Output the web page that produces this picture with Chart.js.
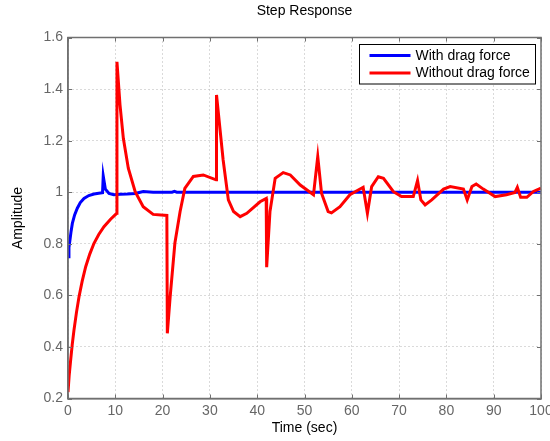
<!DOCTYPE html>
<html>
<head>
<meta charset="utf-8">
<script src="https://cdn.jsdelivr.net/npm/chart.js@4.4.0/dist/chart.umd.min.js"></script>
<style>
html,body{margin:0;padding:0;overflow:hidden;background:#fff;}
#wrap{position:absolute;left:0;top:0;width:560px;height:441px;}
</style>
</head>
<body>
<div id="wrap"><canvas id="c" width="560" height="441"></canvas></div>
<script>
const titleText = 'Step Response';
const xTitle = 'Time (sec)';
const yTitle = 'Amplitude';
const seriesNames = ['With drag force', 'Without drag force'];
const seriesColors = ['#0000ff', '#ff0000'];
const xTicks = [0, 10, 20, 30, 40, 50, 60, 70, 80, 90, 100];
const yTicks = [0.2, 0.4, 0.6, 0.8, 1.0, 1.2, 1.4, 1.6];

const blueTime = [0, 0.2, 0.42, 0.65, 0.92, 1.4, 1.97, 2.6, 3.38, 4.4, 5.5, 6.5, 7.3, 7.45, 7.9, 8.67, 9.7, 11, 12.5, 14.2, 15.9, 18, 22, 22.5, 23, 30, 40, 50, 60, 70, 80, 90, 100];
const blueAmp  = [0.75, 0.785, 0.815, 0.848, 0.879, 0.912, 0.938, 0.96, 0.976, 0.987, 0.993, 0.996, 0.998, 1.063, 1.012, 0.995, 0.99, 0.992, 0.993, 0.995, 1.003, 1.0, 1.0, 1.003, 1.0, 1.0, 1.0, 1.0, 1.0, 1.0, 1.0, 1.0, 1.0];

const redTime = [0, 0.25, 0.56, 0.9, 1.27, 1.8, 2.33, 3.0, 3.74, 4.6, 5.5, 6.5, 7.6, 9.0, 10.3, 10.35, 11.0, 11.7, 12.75, 14.2, 15.9, 18, 20.9, 21.0, 21.6, 22.6, 23.7, 24.7, 26.5, 28.6, 31.3, 31.4, 32.8, 33.9, 35, 36.4, 37.8, 40.6, 41.9, 42.0, 42.7, 43.8, 45.5, 47, 49.1, 51.9, 52.8, 53.6, 55.0, 55.7, 57.5, 59.6, 62.4, 63.3, 64.2, 65.6, 66.7, 68.8, 70.5, 73, 73.9, 74.6, 75.5, 76.9, 79.4, 80.8, 83.6, 84.4, 85.4, 86.3, 87.8, 90.3, 92.7, 94.5, 95.0, 95.7, 97, 98.4, 100];
const redAmp  = [0.225, 0.29, 0.349, 0.41, 0.466, 0.535, 0.595, 0.655, 0.711, 0.76, 0.802, 0.836, 0.866, 0.895, 0.918, 1.506, 1.338, 1.209, 1.093, 1.002, 0.944, 0.914, 0.91, 0.453, 0.595, 0.803, 0.925, 1.015, 1.061, 1.067, 1.048, 1.377, 1.125, 0.970, 0.925, 0.905, 0.918, 0.963, 0.976, 0.709, 0.925, 1.054, 1.076, 1.067, 1.028, 0.990, 1.138, 0.996, 0.925, 0.92, 0.944, 0.990, 1.019, 0.918, 1.022, 1.060, 1.054, 1.002, 0.983, 0.983, 1.045, 0.970, 0.951, 0.970, 1.012, 1.022, 1.012, 0.970, 1.022, 1.032, 1.012, 0.983, 0.990, 0.999, 1.019, 0.980, 0.980, 1.003, 1.016];

const FONT = '"Liberation Sans", Arial, Helvetica, sans-serif';
const AXIS_COLOR = '#707070';

function pts(t, v) { return t.map((x, i) => ({x: x, y: v[i]})); }

const frameAndLegend = {
  id: 'frameAndLegend',
  afterDatasetsDraw(chart) {
    const {ctx, chartArea: a, scales} = chart;
    ctx.save();
    ctx.strokeStyle = AXIS_COLOR;
    ctx.lineWidth = 1;
    const tl = 4;
    ctx.beginPath();
    xTicks.forEach(v => {
      const px = Math.round(scales.x.getPixelForValue(v)) + 0.5;
      ctx.moveTo(px, a.bottom); ctx.lineTo(px, a.bottom - tl);
      ctx.moveTo(px, a.top); ctx.lineTo(px, a.top + tl);
    });
    yTicks.forEach(v => {
      const py = Math.round(scales.y.getPixelForValue(v)) + 0.5;
      ctx.moveTo(a.left, py); ctx.lineTo(a.left + tl, py);
      ctx.moveTo(a.right, py); ctx.lineTo(a.right - tl, py);
    });
    ctx.stroke();
    ctx.lineWidth = 1.5;
    ctx.strokeRect(a.left, a.top, a.right - a.left, a.bottom - a.top);
    const lx = 359.5, ly = 44.5, lw = 176, lh = 39.5;
    ctx.fillStyle = '#fff';
    ctx.fillRect(lx, ly, lw, lh);
    ctx.strokeStyle = '#000';
    ctx.lineWidth = 1;
    ctx.strokeRect(lx, ly, lw, lh);
    ctx.font = '14px ' + FONT;
    ctx.textBaseline = 'middle';
    ctx.textAlign = 'left';
    chart.data.datasets.forEach((ds, i) => {
      const yy = ly + 11 + i * 17.5;
      ctx.strokeStyle = ds.borderColor;
      ctx.lineWidth = 3;
      ctx.beginPath();
      ctx.moveTo(lx + 10, yy); ctx.lineTo(lx + 51, yy);
      ctx.stroke();
      ctx.fillStyle = '#000';
      ctx.fillText(ds.label, lx + 56, yy + 0.5);
    });
    ctx.restore();
  }
};

new Chart(document.getElementById('c'), {
  type: 'line',
  data: {
    datasets: [
      {label: seriesNames[0], data: pts(blueTime, blueAmp), borderColor: seriesColors[0], backgroundColor: seriesColors[0], borderWidth: 3, pointRadius: 0, tension: 0, order: 1},
      {label: seriesNames[1], data: pts(redTime, redAmp), borderColor: seriesColors[1], backgroundColor: seriesColors[1], borderWidth: 3, pointRadius: 0, tension: 0, order: 0}
    ]
  },
  options: {
    responsive: false,
    animation: false,
    devicePixelRatio: 1,
    layout: {padding: {left: 0, right: 19, top: 0, bottom: 0}},
    plugins: {
      legend: {display: false},
      tooltip: {enabled: false},
      title: {
        display: true, text: titleText, fullSize: false, color: '#000',
        font: {family: FONT, size: 14, weight: 'normal', lineHeight: 1.2},
        padding: {top: 3, bottom: 17.7}
      }
    },
    scales: {
      x: {
        type: 'linear', min: 0, max: 100,
        afterBuildTicks: s => { s.ticks = xTicks.map(v => ({value: v})); },
        afterFit: s => { s.height = 42.5; },
        ticks: {color: '#666', padding: 4, font: {family: FONT, size: 14}, maxRotation: 0, autoSkip: false},
        grid: {color: '#b4b4b4', lineWidth: 1, drawTicks: false},
        border: {display: true, color: AXIS_COLOR, width: 1.5, dash: [1, 3]},
        title: {display: true, text: xTitle, color: '#000', font: {family: FONT, size: 14, lineHeight: 1.2}, padding: {top: 0, bottom: 4.6}}
      },
      y: {
        type: 'linear', min: 0.2, max: 1.6,
        afterBuildTicks: s => { s.ticks = yTicks.map(v => ({value: v})); },
        afterFit: s => { s.width = 68; },
        ticks: {color: '#666', padding: 5, font: {family: FONT, size: 14}, autoSkip: false,
          callback: v => String(+Number(v).toFixed(1))},
        grid: {color: '#b4b4b4', lineWidth: 1, drawTicks: false},
        border: {display: true, color: AXIS_COLOR, width: 1.5, dash: [1, 3]},
        title: {display: true, text: yTitle, color: '#000', font: {family: FONT, size: 14, lineHeight: 1.2}, padding: {top: 9.6, bottom: 0}}
      }
    }
  },
  plugins: [frameAndLegend]
});
</script>
</body>
</html>
